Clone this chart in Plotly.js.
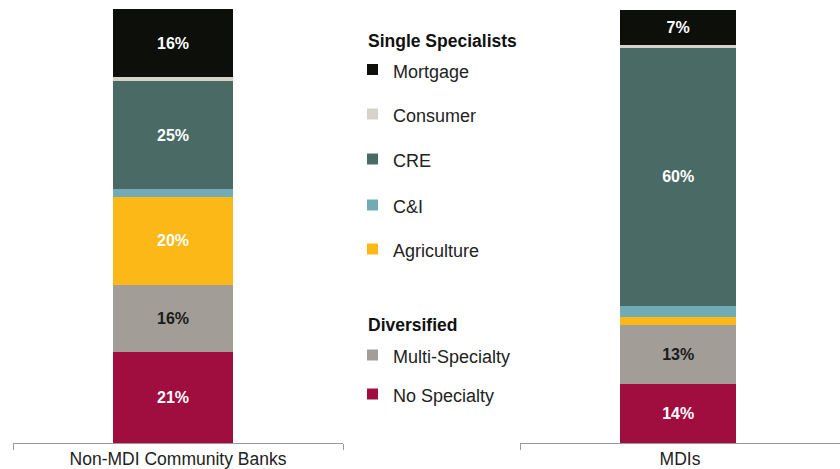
<!DOCTYPE html>
<html>
<head>
<meta charset="utf-8">
<script src="https://cdn.plot.ly/plotly-3.0.1.min.js"></script>
<style>html,body{margin:0;padding:0;background:#fff;}#chart{width:840px;height:469px;}</style>
</head>
<body>
<div id="chart"></div>
<script>
// ---- data ----
const categories = ['Non-MDI Community Banks', 'MDIs'];
const segments = ['Mortgage', 'Consumer', 'CRE', 'C&I', 'Agriculture', 'Multi-Specialty', 'No Specialty'];
const groupOf = ['Single Specialists', 'Single Specialists', 'Single Specialists', 'Single Specialists', 'Single Specialists', 'Diversified', 'Diversified'];
const nonMdiValues = [15.7, 0.9, 24.9, 1.8, 20.3, 15.4, 21.0];
const mdiValues = [8.1, 0.7, 59.4, 2.5, 1.8, 13.6, 13.7];
const nonMdiLabels = ['16%', '', '25%', '', '20%', '16%', '21%'];
const mdiLabels = ['7%', '', '60%', '', '', '13%', '14%'];

// ---- styles ----
const colors = ['#0c0f0a', '#d6d2ca', '#4a6b65', '#70abb6', '#fbb816', '#a29d96', '#a00d3f'];
const labelColors = ['#ffffff', '#ffffff', '#ffffff', '#ffffff', '#ffffff', '#1a1a1a', '#ffffff'];

const H = 469, W = 840, TOP = 9, BOTTOM = 443;
const py = v => (BOTTOM - v) / (BOTTOM - TOP);
const px = v => v / W;

const traces = [];
function addBars(values, labels, cat, xaxis, width, offset) {
  for (let i = segments.length - 1; i >= 0; i--) {
    traces.push({
      type: 'bar',
      x: [cat],
      y: [values[i]],
      text: [labels[i]],
      name: segments[i],
      xaxis: xaxis,
      yaxis: 'y',
      width: width,
      offset: offset,
      marker: {color: colors[i], line: {width: 0}},
      textposition: 'inside',
      insidetextanchor: 'middle',
      textangle: 0,
      constraintext: 'none',
      textfont: {family: 'Liberation Sans, Arial, sans-serif', size: 16, color: labelColors[i], weight: 'bold'},
      hoverinfo: 'skip',
      showlegend: false
    });
  }
}
addBars(nonMdiValues, nonMdiLabels, categories[0], 'x', 0.364, -0.197);
addBars(mdiValues, mdiLabels, categories[1], 'x2', 0.3625, -0.187);

// ---- legend (built from segment names / colors) ----
const annotations = [];
const shapes = [];
const legendX = 367, legendTextX = 391;
const groupTitleY = {'Single Specialists': 41, 'Diversified': 325};
const itemY = [71.5, 116, 161, 207, 251, 357, 396];
Object.keys(groupTitleY).forEach(g => {
  annotations.push({
    xref: 'paper', yref: 'paper', x: px(legendX - 1), y: py(groupTitleY[g]),
    xanchor: 'left', yanchor: 'middle', showarrow: false,
    text: '<b>' + g + '</b>',
    font: {family: 'Liberation Sans, Arial, sans-serif', size: 17.5, color: '#111'}
  });
});
segments.forEach((s, i) => {
  annotations.push({
    xref: 'paper', yref: 'paper', x: px(legendTextX), y: py(itemY[i]),
    xanchor: 'left', yanchor: 'middle', showarrow: false,
    text: s,
    font: {family: 'Liberation Sans, Arial, sans-serif', size: 18, color: '#222'}
  });
  shapes.push({
    type: 'rect', xref: 'paper', yref: 'paper',
    x0: px(legendX), x1: px(legendX + 11),
    y0: py(itemY[i] + 3.5), y1: py(itemY[i] - 7.5),
    fillcolor: colors[i], line: {width: 0}
  });
});

const axisCommon = {
  type: 'category',
  range: [-0.5, 0.5],
  showline: true, linecolor: '#9a9a9a', linewidth: 1,
  ticks: 'outside', tickson: 'boundaries', ticklen: 6, tickcolor: '#9a9a9a', tickwidth: 1,
  ticklabelstandoff: 0,
  showgrid: false, zeroline: false, fixedrange: true,
  tickfont: {family: 'Liberation Sans, Arial, sans-serif', size: 17.5, color: '#222'}
};

const layout = {
  width: W, height: H,
  margin: {l: 0, r: 0, t: TOP, b: H - BOTTOM, pad: 0},
  paper_bgcolor: '#ffffff', plot_bgcolor: 'rgba(0,0,0,0)',
  barmode: 'stack',
  showlegend: false,
  xaxis: Object.assign({}, axisCommon, {domain: [13 / W, 343 / W], anchor: 'y'}),
  xaxis2: Object.assign({}, axisCommon, {domain: [520 / W, 1], anchor: 'y'}),
  yaxis: {range: [0, 100], visible: false, fixedrange: true, domain: [0, 1]},
  annotations: annotations,
  shapes: shapes,
  font: {family: 'Liberation Sans, Arial, sans-serif'}
};

Plotly.newPlot('chart', traces, layout, {displayModeBar: false, staticPlot: true});
</script>
</body>
</html>
